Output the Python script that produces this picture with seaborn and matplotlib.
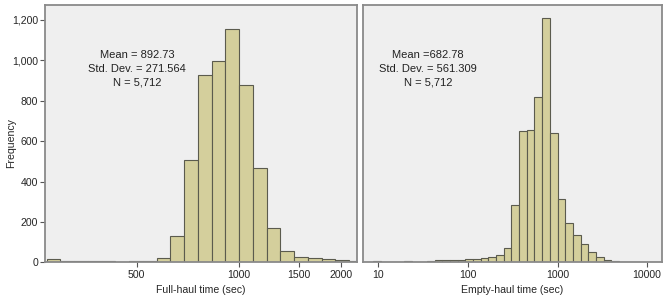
import numpy as np
import pandas as pd
import matplotlib
matplotlib.use("Agg")
import matplotlib.pyplot as plt
import seaborn as sns
from matplotlib.ticker import FixedLocator, FuncFormatter, NullLocator

sns.set_theme(style="white")
plt.rcParams['font.family'] = ['Liberation Sans', 'DejaVu Sans']

# ---- data ----
# Full-haul: log10 bin edges (bins aligned on 1000 s), counts per bin
full_bin_start_log = 2.4344
full_bin_width_log = 0.0404
full_counts = [14, 8, 5, 4, 5, 1, 5, 8, 22, 132, 506, 928, 995, 1154, 880,
               469, 172, 56, 26, 23, 15, 12, 8]

empty_bin_start_log = 0.86
empty_bin_width_log = 0.0856
empty_counts = [3, 5, 0, 2, 3, 7, 3, 2, 5, 12, 10, 10, 13, 15, 18, 21, 26, 38,
                71, 286, 650, 656, 818, 1211, 640, 312, 195, 134, 89, 51, 26,
                10, 5, 3, 2, 1, 2, 2, 1]

full_stats = "Mean = 892.73\nStd. Dev. = 271.564\nN = 5,712"
empty_stats = "Mean =682.78\nStd. Dev. = 561.309\nN = 5,712"
full_xticks = [500, 1000, 1500, 2000]
empty_xticks = [10, 100, 1000, 10000]
yticks = [0, 200, 400, 600, 800, 1000, 1200]
full_xlabel = "Full-haul time (sec)"
empty_xlabel = "Empty-haul time (sec)"


def build(start, width, counts):
    k = np.arange(len(counts))
    centers = 10 ** (start + width * (k + 0.5))
    df = pd.DataFrame({"t": centers, "n": np.asarray(counts, dtype=float)})
    return (start, start + width * len(counts)), width, df


full_range, full_w, full_df = build(full_bin_start_log, full_bin_width_log, full_counts)
empty_range, empty_w, empty_df = build(empty_bin_start_log, empty_bin_width_log, empty_counts)

W, H = 663, 300
fig = plt.figure(figsize=(W / 100, H / 100), dpi=100)
ax1 = fig.add_axes([45 / W, (H - 262.3) / H, (357 - 45) / W, (262.3 - 5) / H])
ax2 = fig.add_axes([363 / W, (H - 262.3) / H, (661.7 - 363) / W, (262.3 - 5) / H])

face = "#d4cf9c"
edge = "#5b5b4e"
bg = "#efefef"
fs = 7.6
fs_stats = 8.0

for ax, df, rng, w in [(ax1, full_df, full_range, full_w),
                       (ax2, empty_df, empty_range, empty_w)]:
    ax.set_facecolor(bg)
    sns.histplot(data=df, x="t", weights="n", binwidth=w, binrange=rng,
                 log_scale=True, ax=ax, color=face, edgecolor=edge,
                 linewidth=0.8, alpha=1)
    for s in ax.spines.values():
        s.set_color("#8a8a8a")
        s.set_linewidth(1.3)
    ax.set_ylim(0, 1274)
    ax.xaxis.set_minor_locator(NullLocator())

ax1.set_xlim(268.8, 2222)
ax2.set_xlim(6.75, 14550)

ax1.xaxis.set_major_locator(FixedLocator(full_xticks))
ax2.xaxis.set_major_locator(FixedLocator(empty_xticks))
for ax in (ax1, ax2):
    ax.xaxis.set_major_formatter(FuncFormatter(lambda v, p: f"{v:g}"))
    ax.tick_params(axis="x", direction="out", length=3.5, width=0.8,
                   color="#555555", labelsize=fs, pad=2, bottom=True)

ax1.yaxis.set_major_locator(FixedLocator(yticks))
ax1.yaxis.set_major_formatter(FuncFormatter(lambda v, p: f"{int(v):,}"))
ax1.tick_params(axis="y", direction="out", length=3.5, width=0.8,
                color="#555555", labelsize=fs, pad=1.5, left=True)
ax2.set_yticks([])

ax1.set_ylabel("Frequency", fontsize=fs, va="center")
ax1.yaxis.set_label_coords(-(45 - 11) / (357 - 45), (262.3 - 143) / 257.3)
ax2.set_ylabel("")
ax1.set_xlabel(full_xlabel, fontsize=fs, labelpad=4)
ax2.set_xlabel(empty_xlabel, fontsize=fs, labelpad=4)

ax1.text((137 - 45) / (357 - 45), (262.3 - 50) / 257.3, full_stats,
         transform=ax1.transAxes, ha="center", va="top", fontsize=fs_stats,
         linespacing=1.45, color="#222222")
ax2.text((428 - 363) / (661.7 - 363), (262.3 - 50) / 257.3, empty_stats,
         transform=ax2.transAxes, ha="center", va="top", fontsize=fs_stats,
         linespacing=1.45, color="#222222")

fig.savefig("out.png", dpi=100, facecolor="white")
